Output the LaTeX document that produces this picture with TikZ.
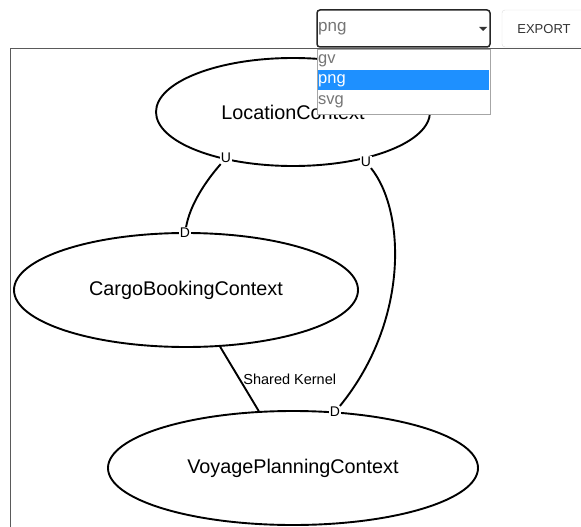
\documentclass[tikz,border=0pt]{standalone}
\usepackage{fontspec}
\setmainfont{Liberation Sans}
\usetikzlibrary{shapes.geometric}
\definecolor{pickblue}{HTML}{1E90FF}
\definecolor{framegray}{HTML}{5A5A5A}
\definecolor{optgray}{HTML}{757575}
\definecolor{btngray}{HTML}{DDDDDD}
\begin{document}
\begin{tikzpicture}[x=1pt,y=-1pt,
    ctx/.style={ellipse, draw, line width=1.9pt, inner sep=0pt, font=\fontsize{19.8}{22}\selectfont},
    side/.style={fill=white, inner sep=1pt, font=\fontsize{14}{14}\selectfont},
    opt/.style={anchor=west, inner sep=0pt, text=optgray, font=\fontsize{16.5}{17}\selectfont}]
    \useasboundingbox (0,0) rectangle (581,527);
    % panel
    \draw[framegray] (10,527) -- (10,48) -- (581,48);
    % contexts
    \node[ctx, minimum width=274pt, minimum height=108pt] (loc) at (293,112) {LocationContext};
    \node[ctx, minimum width=344pt, minimum height=114pt] (cargo) at (186,290) {CargoBookingContext};
    \node[ctx, minimum width=370pt, minimum height=114pt] (voyage) at (293,468) {VoyagePlanningContext};
    % upstream / downstream ends
    \node[side] (locUa) at (226,158) {U};
    \node[side] (locUb) at (366,162) {U};
    \node[side] (cargoD) at (185,233) {D};
    \node[side] (voyageD) at (335,412) {D};
    \draw[line width=1.9pt] (locUa) .. controls (205,182) and (190,205) .. (cargoD);
    \draw[line width=1.9pt] (locUb) .. controls (405,210) and (410,320) .. (voyageD);
    \draw[line width=1.9pt] (cargo) -- (voyage)
        node[pos=0.5, right, inner sep=3pt, font=\fontsize{14.5}{15}\selectfont] (kernel) {Shared Kernel};
    % format picker
    \draw[black!85, line width=1.5pt, rounded corners=3pt, fill=white] (317,10) rectangle (490,47);
    \node[opt, font=\fontsize{17}{17}\selectfont] (pick) at (318,29) {png};
    \fill[black!80] (479,27) -- (487,27) -- (483,31) -- cycle;
    \draw[gray!70, fill=white] (317,49) rectangle (490,114);
    \fill[pickblue] (318,70) rectangle (489,90);
    \node[opt] (gv) at (318,61) {gv};
    \node[opt, text=white] (png) at (318,81) {png};
    \node[opt] (svg) at (318,102) {svg};
    \draw[btngray, rounded corners=3pt, fill=white] (502,10) rectangle (590,47);
    \node[text=black!80, font=\fontsize{13}{13}\selectfont] (export) at (544,29) {EXPORT};
\end{tikzpicture}
\end{document}
